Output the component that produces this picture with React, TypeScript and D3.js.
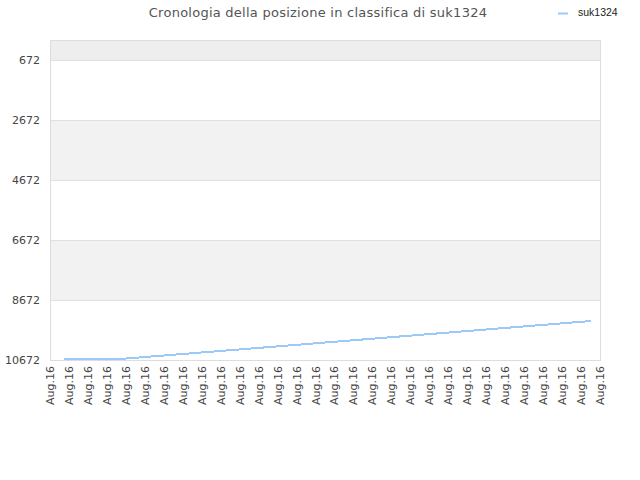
import React from "react";
import * as d3 from "d3";

const title = "Cronologia della posizione in classifica di suk1324";
const seriesName = "suk1324";
const xLabels: string[] = Array.from({ length: 30 }, () => "Aug.16");
const yTicks = [672, 2672, 4672, 6672, 8672, 10672];
// positions in label-index units, and rank values
const pointPos = [0.74, 3.69, 10.0, 18.45, 28.52];
const pointRank = [10639, 10639, 10320, 9888, 9372];

const W = 640;
const H = 480;
const left = 50;
const right = 600;
const top = 40;
const bottom = 360;

export default function App() {
  const x = d3.scaleLinear().domain([0, xLabels.length - 1]).range([left, right]);
  const y = d3.scaleLinear().domain([672 - 2000 / 3, 10672]).range([top, bottom]);
  const line = d3
    .line<number>()
    .x((_, i) => x(pointPos[i]))
    .y((d) => y(d));
  const bands: { a: number; b: number; fill: string }[] = [];
  bands.push({ a: top, b: y(672), fill: "#eeeeee" });
  for (let i = 0; i < yTicks.length - 1; i++) {
    const fill = i % 2 === 1 ? "#f2f2f2" : "#ffffff";
    bands.push({ a: y(yTicks[i]), b: y(yTicks[i + 1]), fill });
  }
  return (
    <svg
      width={W}
      height={H}
      style={{ position: "absolute", left: 0, top: 0, background: "#fff" }}
      fontFamily="DejaVu Sans, sans-serif"
    >
      <text x={318} y={17} textAnchor="middle" fontSize={13} fill="#555" letterSpacing={0.25}>
        {title}
      </text>
      <line x1={558} x2={568} y1={13.5} y2={13.5} stroke="#9ccaf6" strokeWidth={2} />
      <text x={578} y={16} fontSize={10.5} fill="#222" fontFamily="Liberation Sans Narrow, Liberation Sans, sans-serif">
        {seriesName}
      </text>
      {bands.map((b, i) => (
        <rect key={i} x={left} y={b.a} width={right - left} height={b.b - b.a} fill={b.fill} />
      ))}
      {yTicks.map((t) => (
        <g key={t}>
          <line x1={left} x2={right} y1={Math.round(y(t)) + 0.5} y2={Math.round(y(t)) + 0.5} stroke="#e0e0e0" />
          <text x={40} y={y(t) + 4} textAnchor="end" fontSize={11} fill="#444">
            {t}
          </text>
        </g>
      ))}
      <rect x={left + 0.5} y={top + 0.5} width={right - left} height={bottom - top} fill="none" stroke="#dddddd" />
      <path
        d={line(pointRank) || ""}
        fill="none"
        stroke="#9ccaf6"
        strokeWidth={2}
        shapeRendering="crispEdges"
      />
      {xLabels.map((l, i) => (
        <text
          key={i}
          transform={`translate(${x(i) + 4},366) rotate(-90)`}
          textAnchor="end"
          fontSize={11}
          fill="#444"
        >
          {l}
        </text>
      ))}
    </svg>
  );
}
